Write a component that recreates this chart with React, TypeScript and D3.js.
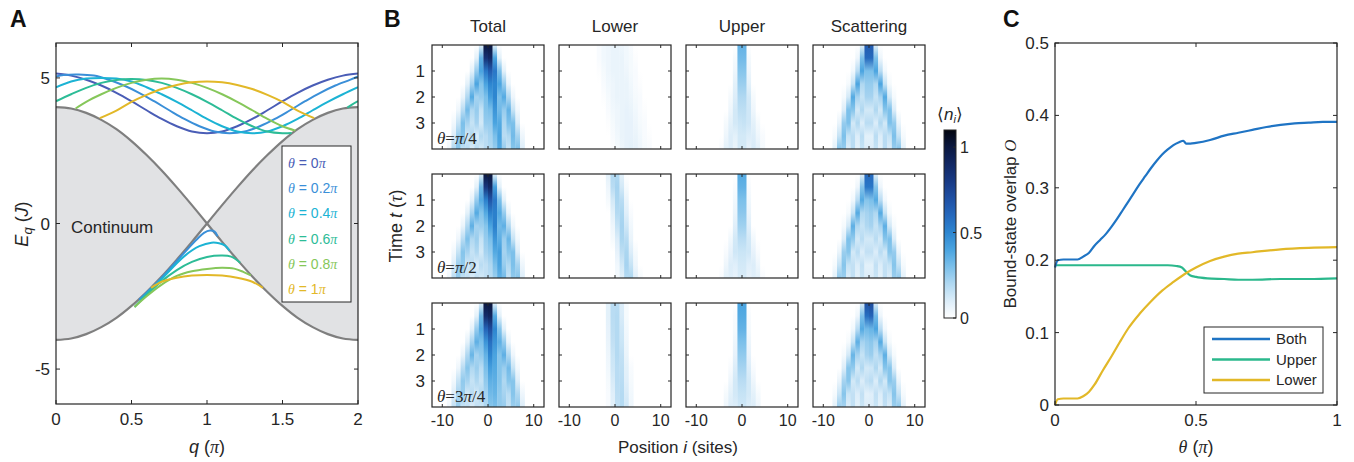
import React from "react";
import * as d3 from "d3";

// ---------- shared style ----------
const FONT = "'Liberation Sans', Arial, Helvetica, sans-serif";
const SERIF = "'Liberation Serif', 'Times New Roman', serif";
const INK = "#262626";

// ---------- panel A: two-particle spectrum ----------
const thetaNames = ["0", "0.2", "0.4", "0.6", "0.8", "1"];
const thetaColors = ["#4a5db6", "#3a8fd8", "#1cb3d4", "#2dbc97", "#86c75a", "#e2b828"];

// continuum edge |E| vs q (units of pi)
const contQ = [0, 0.1, 0.2, 0.3, 0.4, 0.5, 0.6, 0.7, 0.8, 0.9, 1, 1.1, 1.2, 1.3, 1.4, 1.5, 1.6, 1.7, 1.8, 1.9, 2];
const contE = [4, 3.95, 3.8, 3.56, 3.24, 2.83, 2.35, 1.82, 1.24, 0.63, 0, 0.63, 1.24, 1.82, 2.35, 2.83, 3.24, 3.56, 3.8, 3.95, 4];

// upper bound-state branches
const up00Q = [0, 0.1, 0.2, 0.3, 0.4, 0.5, 0.6, 0.7, 0.8, 0.9, 1, 1.1, 1.2, 1.3, 1.4, 1.5, 1.6, 1.7, 1.8, 1.9, 2];
const up00E = [5.15, 5.08, 4.94, 4.74, 4.49, 4.2, 3.89, 3.59, 3.34, 3.16, 3.1, 3.16, 3.34, 3.59, 3.89, 4.2, 4.49, 4.74, 4.94, 5.08, 5.15];
const up02Q = [0, 0.05, 0.15, 0.25, 0.35, 0.45, 0.55, 0.65, 0.75, 0.85, 0.95, 1.05, 1.15, 1.25, 1.35, 1.45, 1.55, 1.65, 1.75, 1.85, 1.95, 2];
const up02E = [5.05, 5.1, 5.12, 5.08, 4.94, 4.74, 4.49, 4.2, 3.89, 3.59, 3.34, 3.16, 3.1, 3.16, 3.34, 3.59, 3.89, 4.2, 4.49, 4.74, 4.94, 5.05];
const up04Q = [0, 0.1, 0.2, 0.3, 0.4, 0.5, 0.6, 0.7, 0.8, 0.9, 1, 1.1, 1.2, 1.3, 1.4, 1.5, 1.6, 1.7, 1.8, 1.9, 2];
const up04E = [4.68, 4.88, 4.98, 5.0, 4.98, 4.88, 4.68, 4.44, 4.18, 3.89, 3.59, 3.34, 3.16, 3.1, 3.16, 3.34, 3.59, 3.89, 4.18, 4.44, 4.68];
const up06Q = [0, 0.1, 0.2, 0.3, 0.4, 0.5, 0.6, 0.7, 0.8, 0.9, 1, 1.1, 1.2, 1.3, 1.4, 1.5, 1.56];
const up06E = [4.2, 4.44, 4.66, 4.83, 4.93, 4.96, 4.93, 4.83, 4.66, 4.44, 4.18, 3.89, 3.59, 3.34, 3.16, 3.1, 3.11];
const up06bQ = [1.93, 1.96, 2];
const up06bE = [3.98, 4.08, 4.2];
const up08Q = [0.13, 0.2, 0.3, 0.4, 0.5, 0.6, 0.7, 0.8, 0.9, 1, 1.1, 1.2, 1.3, 1.4, 1.5, 1.585];
const up08E = [3.95, 4.18, 4.44, 4.66, 4.83, 4.94, 4.98, 4.94, 4.83, 4.66, 4.44, 4.18, 3.89, 3.59, 3.34, 3.19];
const up10Q = [0.29, 0.4, 0.5, 0.6, 0.7, 0.8, 0.9, 1, 1.1, 1.2, 1.3, 1.4, 1.5, 1.6, 1.71];
const up10E = [3.62, 3.88, 4.18, 4.42, 4.62, 4.76, 4.85, 4.88, 4.85, 4.76, 4.62, 4.42, 4.18, 3.88, 3.62];

// lower bound-state branches
const lo02Q = [0.55, 0.7, 0.85, 0.93, 0.98, 1.02, 1.05, 1.07];
const lo02E = [-2.62, -1.86, -1.0, -0.56, -0.32, -0.24, -0.28, -0.44];
const lo04Q = [0.56, 0.7, 0.85, 0.95, 1.03, 1.08, 1.12, 1.15];
const lo04E = [-2.62, -1.9, -1.12, -0.78, -0.66, -0.68, -0.76, -0.93];
const lo06Q = [0.52, 0.6, 0.7, 0.8, 0.9, 1.0, 1.1, 1.16, 1.22];
const lo06E = [-2.87, -2.45, -1.98, -1.6, -1.32, -1.15, -1.1, -1.14, -1.35];
const lo08Q = [0.52, 0.6, 0.7, 0.8, 0.9, 1.0, 1.1, 1.18, 1.24, 1.29];
const lo08E = [-2.87, -2.5, -2.1, -1.8, -1.64, -1.56, -1.52, -1.55, -1.66, -1.78];
const lo10Q = [0.63, 0.7, 0.8, 0.9, 1.0, 1.1, 1.2, 1.3, 1.37];
const lo10E = [-2.21, -2.0, -1.86, -1.79, -1.77, -1.79, -1.86, -2.0, -2.21];

// ---------- panel B: site occupation <n_i> (in %), rows = timeRows, cols = sitePos ----------
const sitePos = [-9.5, -8.5, -7.5, -6.5, -5.5, -4.5, -3.5, -2.5, -1.5, -0.5, 0.5, 1.5, 2.5, 3.5, 4.5, 5.5, 6.5, 7.5, 8.5, 9.5];
const timeRows = [0, 0.5, 1, 1.5, 2, 2.5, 3, 3.5, 4];
const panelTitles = ["Total", "Lower", "Upper", "Scattering"];
const rowThetaNum = ["", "", "3"];
const rowThetaDen = ["4", "2", "4"];

const totPi4 = [
  [0, 0, 0, 0, 0, 0, 0, 0, 8, 100, 100, 8, 0, 0, 0, 0, 0, 0, 0, 0],
  [0, 0, 0, 0, 0, 0, 0, 8, 35, 85, 90, 40, 8, 0, 0, 0, 0, 0, 0, 0],
  [0, 0, 0, 0, 0, 0, 8, 25, 40, 55, 65, 55, 30, 8, 0, 0, 0, 0, 0, 0],
  [0, 0, 0, 0, 0, 8, 22, 40, 28, 40, 50, 50, 40, 25, 6, 0, 0, 0, 0, 0],
  [0, 0, 0, 0, 6, 20, 38, 22, 25, 30, 42, 50, 30, 38, 20, 5, 0, 0, 0, 0],
  [0, 0, 0, 5, 18, 32, 20, 25, 15, 28, 30, 45, 32, 25, 35, 15, 4, 0, 0, 0],
  [0, 0, 4, 15, 30, 22, 15, 22, 12, 25, 25, 40, 38, 20, 30, 30, 10, 0, 0, 0],
  [0, 0, 10, 25, 28, 12, 20, 10, 20, 18, 22, 30, 40, 18, 20, 32, 22, 5, 0, 0],
  [0, 5, 20, 28, 15, 18, 10, 18, 12, 18, 20, 25, 38, 25, 15, 28, 30, 10, 0, 0],
];
const lowPi4 = [
  [0, 0, 0, 0, 0, 0, 2, 4, 5, 6, 6, 5, 4, 2, 0, 0, 0, 0, 0, 0],
  [0, 0, 0, 0, 0, 0, 2, 4, 5, 6, 6, 6, 4, 3, 1, 0, 0, 0, 0, 0],
  [0, 0, 0, 0, 0, 0, 1, 3, 5, 6, 6, 6, 5, 3, 2, 0, 0, 0, 0, 0],
  [0, 0, 0, 0, 0, 0, 0, 2, 4, 5, 6, 6, 6, 4, 2, 1, 0, 0, 0, 0],
  [0, 0, 0, 0, 0, 0, 0, 1, 3, 5, 6, 6, 6, 5, 3, 2, 0, 0, 0, 0],
  [0, 0, 0, 0, 0, 0, 0, 0, 2, 4, 5, 6, 7, 6, 4, 2, 1, 0, 0, 0],
  [0, 0, 0, 0, 0, 0, 0, 0, 1, 3, 5, 6, 7, 7, 5, 3, 2, 0, 0, 0],
  [0, 0, 0, 0, 0, 0, 0, 0, 0, 2, 4, 6, 7, 7, 6, 4, 2, 1, 0, 0],
  [0, 0, 0, 0, 0, 0, 0, 0, 0, 1, 3, 5, 7, 8, 7, 5, 3, 2, 0, 0],
];
const upPi4 = [
  [0, 0, 0, 0, 0, 0, 0, 0, 0, 35, 35, 0, 0, 0, 0, 0, 0, 0, 0, 0],
  [0, 0, 0, 0, 0, 0, 0, 0, 3, 32, 32, 3, 0, 0, 0, 0, 0, 0, 0, 0],
  [0, 0, 0, 0, 0, 0, 0, 0, 5, 28, 28, 5, 0, 0, 0, 0, 0, 0, 0, 0],
  [0, 0, 0, 0, 0, 0, 0, 0, 8, 24, 24, 8, 0, 0, 0, 0, 0, 0, 0, 0],
  [0, 0, 0, 0, 0, 0, 0, 3, 10, 20, 20, 12, 3, 0, 0, 0, 0, 0, 0, 0],
  [0, 0, 0, 0, 0, 0, 0, 5, 12, 17, 17, 13, 5, 0, 0, 0, 0, 0, 0, 0],
  [0, 0, 0, 0, 0, 0, 3, 8, 12, 14, 15, 13, 8, 3, 0, 0, 0, 0, 0, 0],
  [0, 0, 0, 0, 0, 0, 5, 10, 8, 12, 12, 10, 10, 5, 2, 0, 0, 0, 0, 0],
  [0, 0, 0, 0, 0, 2, 8, 10, 6, 12, 12, 7, 11, 8, 3, 0, 0, 0, 0, 0],
];
const scatPi4 = [
  [0, 0, 0, 0, 0, 0, 0, 0, 8, 65, 65, 8, 0, 0, 0, 0, 0, 0, 0, 0],
  [0, 0, 0, 0, 0, 0, 0, 5, 30, 60, 60, 30, 5, 0, 0, 0, 0, 0, 0, 0],
  [0, 0, 0, 0, 0, 0, 4, 18, 40, 30, 30, 40, 18, 4, 0, 0, 0, 0, 0, 0],
  [0, 0, 0, 0, 0, 3, 15, 40, 20, 25, 25, 20, 40, 15, 3, 0, 0, 0, 0, 0],
  [0, 0, 0, 0, 3, 12, 38, 22, 15, 22, 22, 15, 22, 38, 12, 3, 0, 0, 0, 0],
  [0, 0, 0, 0, 10, 30, 28, 12, 20, 12, 12, 20, 12, 28, 30, 10, 0, 0, 0, 0],
  [0, 0, 0, 6, 25, 30, 12, 20, 10, 18, 18, 10, 20, 12, 30, 25, 6, 0, 0, 0],
  [0, 0, 3, 15, 30, 15, 18, 10, 18, 8, 8, 18, 10, 18, 15, 30, 15, 3, 0, 0],
  [0, 0, 8, 28, 25, 10, 18, 8, 15, 10, 10, 15, 8, 18, 10, 25, 28, 8, 0, 0],
];

const totPi2 = [
  [0, 0, 0, 0, 0, 0, 0, 0, 8, 100, 100, 8, 0, 0, 0, 0, 0, 0, 0, 0],
  [0, 0, 0, 0, 0, 0, 0, 8, 32, 82, 90, 42, 8, 0, 0, 0, 0, 0, 0, 0],
  [0, 0, 0, 0, 0, 0, 8, 25, 38, 52, 68, 55, 30, 8, 0, 0, 0, 0, 0, 0],
  [0, 0, 0, 0, 0, 8, 22, 38, 28, 38, 52, 52, 38, 25, 6, 0, 0, 0, 0, 0],
  [0, 0, 0, 0, 6, 20, 36, 22, 24, 28, 40, 52, 32, 36, 20, 5, 0, 0, 0, 0],
  [0, 0, 0, 5, 18, 30, 20, 24, 15, 25, 30, 45, 36, 24, 34, 15, 4, 0, 0, 0],
  [0, 0, 4, 15, 28, 22, 15, 20, 12, 22, 25, 38, 42, 22, 28, 30, 10, 0, 0, 0],
  [0, 0, 10, 24, 26, 12, 18, 10, 18, 16, 20, 30, 40, 25, 20, 30, 22, 5, 0, 0],
  [0, 5, 18, 26, 15, 16, 10, 16, 12, 16, 18, 24, 35, 32, 15, 26, 28, 10, 0, 0],
];
const lowPi2 = [
  [0, 0, 0, 0, 0, 0, 0, 0, 8, 20, 20, 8, 0, 0, 0, 0, 0, 0, 0, 0],
  [0, 0, 0, 0, 0, 0, 0, 0, 5, 18, 22, 12, 3, 0, 0, 0, 0, 0, 0, 0],
  [0, 0, 0, 0, 0, 0, 0, 0, 3, 12, 21, 18, 6, 0, 0, 0, 0, 0, 0, 0],
  [0, 0, 0, 0, 0, 0, 0, 0, 0, 8, 19, 21, 9, 2, 0, 0, 0, 0, 0, 0],
  [0, 0, 0, 0, 0, 0, 0, 0, 0, 5, 15, 22, 13, 4, 0, 0, 0, 0, 0, 0],
  [0, 0, 0, 0, 0, 0, 0, 0, 0, 3, 10, 21, 18, 6, 0, 0, 0, 0, 0, 0],
  [0, 0, 0, 0, 0, 0, 0, 0, 0, 0, 7, 17, 21, 10, 3, 0, 0, 0, 0, 0],
  [0, 0, 0, 0, 0, 0, 0, 0, 0, 0, 4, 12, 22, 15, 5, 0, 0, 0, 0, 0],
  [0, 0, 0, 0, 0, 0, 0, 0, 0, 0, 3, 8, 19, 21, 9, 3, 0, 0, 0, 0],
];
const upPi2 = [
  [0, 0, 0, 0, 0, 0, 0, 0, 0, 38, 38, 0, 0, 0, 0, 0, 0, 0, 0, 0],
  [0, 0, 0, 0, 0, 0, 0, 0, 2, 35, 35, 2, 0, 0, 0, 0, 0, 0, 0, 0],
  [0, 0, 0, 0, 0, 0, 0, 0, 4, 30, 30, 4, 0, 0, 0, 0, 0, 0, 0, 0],
  [0, 0, 0, 0, 0, 0, 0, 0, 6, 27, 27, 6, 0, 0, 0, 0, 0, 0, 0, 0],
  [0, 0, 0, 0, 0, 0, 0, 0, 9, 23, 23, 9, 0, 0, 0, 0, 0, 0, 0, 0],
  [0, 0, 0, 0, 0, 0, 0, 4, 12, 18, 18, 12, 4, 0, 0, 0, 0, 0, 0, 0],
  [0, 0, 0, 0, 0, 0, 2, 7, 13, 14, 14, 13, 7, 2, 0, 0, 0, 0, 0, 0],
  [0, 0, 0, 0, 0, 0, 5, 10, 9, 12, 12, 9, 10, 5, 0, 0, 0, 0, 0, 0],
  [0, 0, 0, 0, 0, 2, 8, 9, 7, 11, 11, 7, 9, 8, 2, 0, 0, 0, 0, 0],
];
const scatPi2 = [
  [0, 0, 0, 0, 0, 0, 0, 0, 8, 60, 60, 8, 0, 0, 0, 0, 0, 0, 0, 0],
  [0, 0, 0, 0, 0, 0, 0, 5, 28, 55, 55, 28, 5, 0, 0, 0, 0, 0, 0, 0],
  [0, 0, 0, 0, 0, 0, 4, 18, 38, 28, 30, 38, 18, 4, 0, 0, 0, 0, 0, 0],
  [0, 0, 0, 0, 0, 3, 15, 38, 20, 22, 24, 20, 38, 15, 3, 0, 0, 0, 0, 0],
  [0, 0, 0, 0, 3, 12, 36, 20, 15, 20, 22, 15, 22, 36, 12, 3, 0, 0, 0, 0],
  [0, 0, 0, 0, 10, 30, 26, 12, 18, 12, 12, 18, 12, 28, 30, 10, 0, 0, 0, 0],
  [0, 0, 0, 6, 24, 28, 12, 18, 10, 16, 16, 10, 18, 12, 28, 25, 6, 0, 0, 0],
  [0, 0, 3, 15, 28, 15, 16, 10, 16, 8, 8, 16, 10, 16, 15, 28, 15, 3, 0, 0],
  [0, 0, 8, 26, 24, 10, 16, 8, 14, 10, 10, 14, 8, 16, 10, 24, 26, 8, 0, 0],
];

const tot3Pi4 = [
  [0, 0, 0, 0, 0, 0, 0, 0, 8, 100, 100, 8, 0, 0, 0, 0, 0, 0, 0, 0],
  [0, 0, 0, 0, 0, 0, 0, 8, 32, 88, 92, 38, 8, 0, 0, 0, 0, 0, 0, 0],
  [0, 0, 0, 0, 0, 0, 8, 25, 38, 62, 72, 50, 28, 8, 0, 0, 0, 0, 0, 0],
  [0, 0, 0, 0, 0, 8, 22, 36, 30, 45, 58, 45, 36, 25, 6, 0, 0, 0, 0, 0],
  [0, 0, 0, 0, 6, 20, 34, 22, 26, 35, 50, 40, 28, 36, 20, 5, 0, 0, 0, 0],
  [0, 0, 0, 5, 18, 28, 20, 24, 18, 30, 42, 38, 28, 24, 32, 15, 4, 0, 0, 0],
  [0, 0, 4, 15, 26, 22, 15, 20, 15, 26, 36, 36, 28, 20, 28, 28, 10, 0, 0, 0],
  [0, 0, 10, 22, 24, 12, 18, 12, 20, 22, 32, 34, 26, 22, 18, 28, 20, 5, 0, 0],
  [0, 5, 16, 24, 14, 16, 10, 16, 14, 20, 28, 30, 26, 25, 15, 24, 26, 10, 0, 0],
];
const low3Pi4 = [
  [0, 0, 0, 0, 0, 0, 0, 0, 8, 18, 18, 10, 3, 0, 0, 0, 0, 0, 0, 0],
  [0, 0, 0, 0, 0, 0, 0, 0, 8, 18, 19, 11, 3, 0, 0, 0, 0, 0, 0, 0],
  [0, 0, 0, 0, 0, 0, 0, 0, 7, 17, 19, 13, 4, 0, 0, 0, 0, 0, 0, 0],
  [0, 0, 0, 0, 0, 0, 0, 0, 6, 16, 19, 14, 5, 0, 0, 0, 0, 0, 0, 0],
  [0, 0, 0, 0, 0, 0, 0, 0, 5, 14, 19, 16, 6, 0, 0, 0, 0, 0, 0, 0],
  [0, 0, 0, 0, 0, 0, 0, 0, 4, 13, 18, 17, 8, 2, 0, 0, 0, 0, 0, 0],
  [0, 0, 0, 0, 0, 0, 0, 0, 3, 11, 18, 18, 9, 3, 0, 0, 0, 0, 0, 0],
  [0, 0, 0, 0, 0, 0, 0, 0, 2, 9, 17, 19, 11, 4, 0, 0, 0, 0, 0, 0],
  [0, 0, 0, 0, 0, 0, 0, 0, 2, 8, 16, 19, 13, 5, 0, 0, 0, 0, 0, 0],
];
const up3Pi4 = [
  [0, 0, 0, 0, 0, 0, 0, 0, 0, 40, 40, 0, 0, 0, 0, 0, 0, 0, 0, 0],
  [0, 0, 0, 0, 0, 0, 0, 0, 2, 38, 38, 2, 0, 0, 0, 0, 0, 0, 0, 0],
  [0, 0, 0, 0, 0, 0, 0, 0, 3, 35, 35, 3, 0, 0, 0, 0, 0, 0, 0, 0],
  [0, 0, 0, 0, 0, 0, 0, 0, 5, 30, 30, 5, 0, 0, 0, 0, 0, 0, 0, 0],
  [0, 0, 0, 0, 0, 0, 0, 0, 7, 26, 26, 7, 0, 0, 0, 0, 0, 0, 0, 0],
  [0, 0, 0, 0, 0, 0, 0, 2, 10, 22, 22, 10, 2, 0, 0, 0, 0, 0, 0, 0],
  [0, 0, 0, 0, 0, 0, 0, 5, 12, 18, 18, 12, 5, 0, 0, 0, 0, 0, 0, 0],
  [0, 0, 0, 0, 0, 0, 3, 8, 12, 15, 15, 12, 8, 3, 0, 0, 0, 0, 0, 0],
  [0, 0, 0, 0, 0, 0, 5, 10, 10, 13, 13, 10, 10, 5, 0, 0, 0, 0, 0, 0],
];
const scat3Pi4 = [
  [0, 0, 0, 0, 0, 0, 0, 0, 10, 70, 72, 10, 0, 0, 0, 0, 0, 0, 0, 0],
  [0, 0, 0, 0, 0, 0, 0, 5, 30, 58, 62, 32, 5, 0, 0, 0, 0, 0, 0, 0],
  [0, 0, 0, 0, 0, 0, 4, 18, 38, 32, 34, 40, 18, 4, 0, 0, 0, 0, 0, 0],
  [0, 0, 0, 0, 0, 3, 15, 36, 22, 25, 27, 22, 38, 15, 3, 0, 0, 0, 0, 0],
  [0, 0, 0, 0, 3, 12, 34, 22, 15, 22, 24, 16, 22, 36, 12, 3, 0, 0, 0, 0],
  [0, 0, 0, 0, 10, 28, 26, 12, 20, 12, 13, 20, 12, 28, 28, 10, 0, 0, 0, 0],
  [0, 0, 0, 6, 22, 28, 12, 18, 10, 16, 18, 10, 20, 12, 28, 24, 6, 0, 0, 0],
  [0, 0, 3, 14, 28, 14, 16, 10, 16, 8, 9, 16, 10, 18, 15, 28, 15, 3, 0, 0],
  [0, 0, 8, 24, 22, 10, 16, 8, 14, 10, 10, 14, 8, 16, 10, 24, 26, 8, 0, 0],
];

// colormap stops
const cmapStops = [0, 0.1, 0.2, 0.3, 0.4, 0.5, 0.6, 0.7, 0.8, 0.9, 1.0, 1.1];
const cmapColors = ["#ffffff", "#dcedf9", "#b0d8f1", "#7cc0ea", "#4aa4e0", "#2d86d0", "#2569bd", "#1f50a3", "#183a84", "#122864", "#0b1840", "#03060f"];

// ---------- panel C: bound-state overlap ----------
const bothTheta = [0, 0.01, 0.03, 0.06, 0.08, 0.1, 0.12, 0.14, 0.16, 0.18, 0.2, 0.22, 0.24, 0.26, 0.28, 0.3, 0.32, 0.34, 0.36, 0.38, 0.4, 0.42, 0.44, 0.455, 0.465, 0.48, 0.5, 0.55, 0.6, 0.65, 0.7, 0.75, 0.8, 0.85, 0.9, 0.95, 1.0];
const bothVal = [0.19, 0.2, 0.201, 0.201, 0.201, 0.205, 0.21, 0.22, 0.228, 0.236, 0.246, 0.257, 0.269, 0.281, 0.293, 0.305, 0.316, 0.327, 0.337, 0.346, 0.353, 0.359, 0.363, 0.365, 0.361, 0.361, 0.362, 0.366, 0.372, 0.376, 0.38, 0.384, 0.387, 0.389, 0.39, 0.391, 0.391];
const upperTheta = [0, 0.1, 0.2, 0.3, 0.4, 0.43, 0.45, 0.46, 0.47, 0.48, 0.5, 0.54, 0.6, 0.65, 0.7, 0.8, 0.9, 1.0];
const upperVal = [0.193, 0.193, 0.193, 0.193, 0.193, 0.192, 0.19, 0.186, 0.182, 0.179, 0.177, 0.175, 0.174, 0.173, 0.173, 0.174, 0.174, 0.175];
const lowerTheta = [0, 0.01, 0.03, 0.06, 0.08, 0.1, 0.12, 0.14, 0.17, 0.2, 0.23, 0.26, 0.3, 0.34, 0.38, 0.42, 0.46, 0.5, 0.55, 0.6, 0.65, 0.7, 0.8, 0.9, 1.0];
const lowerVal = [0, 0.008, 0.009, 0.009, 0.009, 0.012, 0.018, 0.028, 0.048, 0.067, 0.087, 0.106, 0.126, 0.143, 0.158, 0.17, 0.181, 0.19, 0.199, 0.205, 0.209, 0.211, 0.215, 0.217, 0.218];
const overlapNames = ["Both", "Upper", "Lower"];
const overlapColors = ["#1f74c4", "#2bb88c", "#e2b828"];

const zip = (a: number[], b: number[]) => a.map((v, i) => [v, b[i]] as [number, number]);

// ---------- panel A ----------
function PanelA() {
  const L = 56, R = 358, T = 43, B = 404;
  const x = d3.scaleLinear().domain([0, 2]).range([L, R]);
  const y = d3.scaleLinear().domain([-6.2, 6.2]).range([B, T]);
  const cont = zip(contQ, contE);
  const halves = [cont.slice(0, 11), cont.slice(10)];
  const area = d3.area<[number, number]>().x(d => x(d[0])).y0(d => y(-d[1])).y1(d => y(d[1])).curve(d3.curveCatmullRom);
  const top = d3.line<[number, number]>().x(d => x(d[0])).y(d => y(d[1])).curve(d3.curveCatmullRom);
  const bot = d3.line<[number, number]>().x(d => x(d[0])).y(d => y(-d[1])).curve(d3.curveCatmullRom);
  const line = d3.line<[number, number]>().x(d => x(d[0])).y(d => y(d[1])).curve(d3.curveCatmullRom);

  const branches = [
    { k: 0, pts: zip(up00Q, up00E) },
    { k: 1, pts: zip(up02Q, up02E) },
    { k: 2, pts: zip(up04Q, up04E) },
    { k: 3, pts: zip(up06Q, up06E) },
    { k: 3, pts: zip(up06bQ, up06bE) },
    { k: 4, pts: zip(up08Q, up08E) },
    { k: 5, pts: zip(up10Q, up10E) },
    { k: 1, pts: zip(lo02Q, lo02E) },
    { k: 2, pts: zip(lo04Q, lo04E) },
    { k: 3, pts: zip(lo06Q, lo06E) },
    { k: 4, pts: zip(lo08Q, lo08E) },
    { k: 5, pts: zip(lo10Q, lo10E) },
  ];
  const xt = [0, 0.5, 1, 1.5, 2];
  const yt = [-5, 0, 5];
  return (
    <g fontFamily={FONT} fill={INK}>
      <text x={10} y={27} fontSize={23} fontWeight="bold" fill="#111">A</text>
      <defs>
        <clipPath id="clipA"><rect x={L} y={T} width={R - L} height={B - T} /></clipPath>
      </defs>
      <g clipPath="url(#clipA)">
        {halves.map((h, i) => <path key={"a" + i} d={area(h) || ""} fill="#e1e2e4" stroke="none" />)}
        {halves.map((h, i) => <path key={"t" + i} d={top(h) || ""} fill="none" stroke="#7f7f7f" strokeWidth={2.2} />)}
        {halves.map((h, i) => <path key={"b" + i} d={bot(h) || ""} fill="none" stroke="#7f7f7f" strokeWidth={2.2} />)}
        {branches.map((b, i) => (
          <path key={i} d={line(b.pts) || ""} fill="none" stroke={thetaColors[b.k]} strokeWidth={2} />
        ))}
      </g>
      <rect x={L} y={T} width={R - L} height={B - T} fill="none" stroke={INK} strokeWidth={1.2} />
      {xt.map(v => (
        <g key={v}>
          <line x1={x(v)} x2={x(v)} y1={B} y2={B - 4} stroke={INK} />
          <line x1={x(v)} x2={x(v)} y1={T} y2={T + 4} stroke={INK} />
          <text x={x(v)} y={B + 21} fontSize={17} textAnchor="middle">{v}</text>
        </g>
      ))}
      {yt.map(v => (
        <g key={v}>
          <line x1={L} x2={L + 4} y1={y(v)} y2={y(v)} stroke={INK} />
          <line x1={R} x2={R - 4} y1={y(v)} y2={y(v)} stroke={INK} />
          <text x={L - 6} y={y(v) + 6} fontSize={17} textAnchor="end">{v}</text>
        </g>
      ))}
      <text x={71} y={233} fontSize={17}>Continuum</text>
      <rect x={282} y={146} width={69} height={156} fill="#fff" stroke={INK} strokeWidth={1} />
      {thetaNames.map((n, i) => (
        <text key={n} x={288} y={168 + i * 25.2} fontSize={14} fill={thetaColors[i]}>
          <tspan fontFamily={SERIF} fontStyle="italic">θ</tspan> = {n}
          <tspan fontFamily={SERIF} fontStyle="italic">π</tspan>
        </text>
      ))}
      <text transform="translate(28,224) rotate(-90)" fontSize={18} textAnchor="middle">
        <tspan fontStyle="italic">E</tspan>
        <tspan fontStyle="italic" fontSize={13} dy={4}>q</tspan>
        <tspan dy={-4}> (</tspan>
        <tspan fontStyle="italic">J</tspan>
        <tspan>)</tspan>
      </text>
      <text x={207} y={453} fontSize={18} textAnchor="middle">
        <tspan fontStyle="italic">q</tspan> (<tspan fontFamily={SERIF} fontStyle="italic">π</tspan>)
      </text>
    </g>
  );
}

// ---------- panel B ----------
const cmap = d3.scaleLinear<string>().domain(cmapStops).range(cmapColors).interpolate(d3.interpolateRgb).clamp(true);
const PW = 112, PH = 104;
const colLeft = [432, 559, 686, 813];
const rowTop = [45, 174, 303];

function HeatPanel({ id, left, top, grid, showX, showY }: { id: string; left: number; top: number; grid: number[][]; showX: boolean; showY: boolean }) {
  const x = d3.scaleLinear().domain([-12.25, 12.25]).range([left, left + PW]);
  const y = d3.scaleLinear().domain([0, 4]).range([top, top + PH]);
  const cw = x(1) - x(0);
  return (
    <g>
      <defs>
        {sitePos.map((s, c) => (
          <linearGradient key={c} id={`${id}-${c}`} x1="0" y1="0" x2="0" y2="1">
            {timeRows.map((t, r) => (
              <stop key={r} offset={t / 4} stopColor={cmap((grid[r][c] ?? 0) / 100)} />
            ))}
          </linearGradient>
        ))}
      </defs>
      {sitePos.map((s, c) =>
        grid.some(row => (row[c] ?? 0) > 0) ? (
          <rect key={c} x={x(s - 0.5)} y={y(0)} width={cw + 0.3} height={y(4) - y(0)} fill={`url(#${id}-${c})`} />
        ) : null
      )}
      <rect x={left} y={top} width={PW} height={PH} fill="none" stroke={INK} strokeWidth={1.2} />
      {[-10, 0, 10].map(v => (
        <g key={v}>
          <line x1={x(v)} x2={x(v)} y1={top + PH} y2={top + PH - 3} stroke={INK} />
          <line x1={x(v)} x2={x(v)} y1={top} y2={top + 3} stroke={INK} />
          {showX && <text x={x(v)} y={top + PH + 19} fontSize={16} textAnchor="middle">{v}</text>}
        </g>
      ))}
      {[1, 2, 3].map(v => (
        <g key={v}>
          <line x1={left} x2={left + 3} y1={y(v)} y2={y(v)} stroke={INK} />
          <line x1={left + PW} x2={left + PW - 3} y1={y(v)} y2={y(v)} stroke={INK} />
          {showY && <text x={left - 7} y={y(v) + 6} fontSize={17} textAnchor="end">{v}</text>}
        </g>
      ))}
    </g>
  );
}

function PanelB() {
  const grids = [
    [totPi4, lowPi4, upPi4, scatPi4],
    [totPi2, lowPi2, upPi2, scatPi2],
    [tot3Pi4, low3Pi4, up3Pi4, scat3Pi4],
  ];
  const cb = d3.scaleLinear().domain([0, 1.1]).range([318, 130]);
  const cbStops = d3.range(0, 1.1001, 0.05);
  return (
    <g fontFamily={FONT} fill={INK}>
      <text x={384} y={27} fontSize={23} fontWeight="bold" fill="#111">B</text>
      {panelTitles.map((t, j) => (
        <text key={t} x={colLeft[j] + PW / 2} y={32} fontSize={17} textAnchor="middle">{t}</text>
      ))}
      {grids.map((row, i) =>
        row.map((g, j) => (
          <HeatPanel key={`${i}-${j}`} id={`h${i}${j}`} left={colLeft[j]} top={rowTop[i]} grid={g} showX={i === 2} showY={j === 0} />
        ))
      )}
      {rowThetaDen.map((den, i) => (
        <text key={i} x={437} y={rowTop[i] + PH - 5} fontSize={17} fontFamily={SERIF}>
          <tspan fontStyle="italic">θ</tspan>=<tspan>{rowThetaNum[i]}</tspan>
          <tspan fontStyle="italic">π</tspan>/{den}
        </text>
      ))}
      <text transform="translate(402,226) rotate(-90)" fontSize={18} textAnchor="middle">
        Time <tspan fontStyle="italic">t</tspan> (<tspan fontFamily={SERIF} fontStyle="italic">τ</tspan>)
      </text>
      <text x={678} y={453} fontSize={17} textAnchor="middle">
        Position <tspan fontStyle="italic">i</tspan> (sites)
      </text>
      <defs>
        <linearGradient id="cbar" x1="0" y1="1" x2="0" y2="0">
          {cbStops.map((v, i) => (
            <stop key={i} offset={v / 1.1} stopColor={cmap(v)} />
          ))}
        </linearGradient>
      </defs>
      <rect x={944} y={cb(1.1)} width={12} height={cb(0) - cb(1.1)} fill="url(#cbar)" stroke={INK} strokeWidth={1} />
      {[0, 0.5, 1].map(v => (
        <g key={v}>
          <line x1={953} x2={956} y1={cb(v)} y2={cb(v)} stroke={INK} />
          <text x={960} y={cb(v) + 6} fontSize={16}>{v}</text>
        </g>
      ))}
      <text x={950} y={120} fontSize={17} textAnchor="middle">
        ⟨<tspan fontStyle="italic">n</tspan><tspan fontStyle="italic" fontSize={11} dy={3}>i</tspan><tspan dy={-3}>⟩</tspan>
      </text>
    </g>
  );
}

// ---------- panel C ----------
function PanelC() {
  const L = 1055, R = 1337, T = 43, B = 405;
  const x = d3.scaleLinear().domain([0, 1]).range([L, R]);
  const y = d3.scaleLinear().domain([0, 0.5]).range([B, T]);
  const line = d3.line<[number, number]>().x(d => x(d[0])).y(d => y(d[1])).curve(d3.curveMonotoneX);
  const series = [zip(bothTheta, bothVal), zip(upperTheta, upperVal), zip(lowerTheta, lowerVal)];
  const yt = [0, 0.1, 0.2, 0.3, 0.4, 0.5];
  const xt = [0, 0.5, 1];
  return (
    <g fontFamily={FONT} fill={INK}>
      <text x={1003} y={27} fontSize={23} fontWeight="bold" fill="#111">C</text>
      {[1, 2, 0].map(k => (
        <path key={k} d={line(series[k]) || ""} fill="none" stroke={overlapColors[k]} strokeWidth={2.2} />
      ))}
      <rect x={L} y={T} width={R - L} height={B - T} fill="none" stroke={INK} strokeWidth={1.2} />
      {xt.map(v => (
        <g key={v}>
          <line x1={x(v)} x2={x(v)} y1={B} y2={B - 4} stroke={INK} />
          <line x1={x(v)} x2={x(v)} y1={T} y2={T + 4} stroke={INK} />
          <text x={x(v)} y={B + 21} fontSize={17} textAnchor="middle">{v}</text>
        </g>
      ))}
      {yt.map(v => (
        <g key={v}>
          <line x1={L} x2={L + 4} y1={y(v)} y2={y(v)} stroke={INK} />
          <line x1={R} x2={R - 4} y1={y(v)} y2={y(v)} stroke={INK} />
          <text x={L - 6} y={y(v) + 6} fontSize={17} textAnchor="end">{v}</text>
        </g>
      ))}
      <rect x={1204} y={327} width={119} height={66} fill="#fff" stroke={INK} strokeWidth={1} />
      {overlapNames.map((n, i) => (
        <g key={n}>
          <line x1={1212} x2={1270} y1={339 + i * 20.5} y2={339 + i * 20.5} stroke={overlapColors[i]} strokeWidth={2.4} />
          <text x={1276} y={344 + i * 20.5} fontSize={15}>{n}</text>
        </g>
      ))}
      <text transform="translate(1016,224) rotate(-90)" fontSize={17} textAnchor="middle">
        Bound-state overlap  <tspan fontFamily={SERIF} fontStyle="italic">O</tspan>
      </text>
      <text x={1196} y={453} fontSize={18} textAnchor="middle">
        <tspan fontFamily={SERIF} fontStyle="italic">θ</tspan> (<tspan fontFamily={SERIF} fontStyle="italic">π</tspan>)
      </text>
    </g>
  );
}

export default function App() {
  return (
    <svg width={1354} height={462} style={{ position: "absolute", left: 0, top: 0, background: "#fff" }}>
      <rect width={1354} height={462} fill="#fff" />
      <PanelA />
      <PanelB />
      <PanelC />
    </svg>
  );
}
